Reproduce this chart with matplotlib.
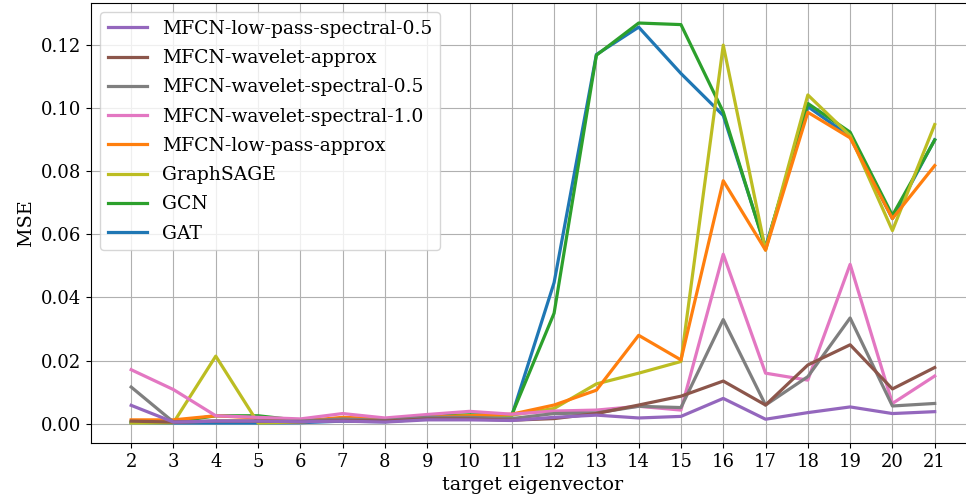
import numpy as np
import matplotlib
matplotlib.use('Agg')
import matplotlib.pyplot as plt

plt.rcParams['font.family'] = 'DejaVu Serif'
plt.rcParams['font.size'] = 13

# target eigenvectors
eigvecs = list(range(2, 22))

# MSE per model
gat = [0.0003, 0.0002, 0.0002, 0.0002, 0.0003, 0.0008, 0.0006, 0.0015, 0.0018, 0.0025,
       0.0447, 0.1170, 0.1257, 0.1110, 0.0977, 0.0560, 0.1005, 0.0910, 0.0650, 0.0900]
gcn = [0.0005, 0.0005, 0.0025, 0.0025, 0.0010, 0.0015, 0.0012, 0.0025, 0.0028, 0.0028,
       0.0350, 0.1168, 0.1270, 0.1265, 0.0988, 0.0555, 0.1015, 0.0924, 0.0660, 0.0899]
graphsage = [0.0002, 0.0003, 0.0214, 0.0002, 0.0005, 0.0015, 0.0010, 0.0020, 0.0025, 0.0027,
             0.0048, 0.0126, 0.0160, 0.0197, 0.1200, 0.0550, 0.1042, 0.0913, 0.0612, 0.0948]
lowpass_approx = [0.0012, 0.0012, 0.0025, 0.0018, 0.0008, 0.0020, 0.0015, 0.0020, 0.0025, 0.0030,
                  0.0059, 0.0106, 0.0280, 0.0202, 0.0770, 0.0550, 0.0987, 0.0906, 0.0650, 0.0818]
wavelet_spec_10 = [0.0171, 0.0108, 0.0025, 0.0020, 0.0015, 0.0032, 0.0018, 0.0029, 0.0039, 0.0030,
                   0.0040, 0.0043, 0.0055, 0.0043, 0.0537, 0.0160, 0.0138, 0.0505, 0.0064, 0.0151]
wavelet_spec_05 = [0.0116, 0.0005, 0.0008, 0.0008, 0.0008, 0.0015, 0.0010, 0.0020, 0.0020, 0.0016,
                   0.0032, 0.0034, 0.0055, 0.0051, 0.0330, 0.0059, 0.0149, 0.0335, 0.0056, 0.0064]
wavelet_approx = [0.0008, 0.0005, 0.0008, 0.0008, 0.0006, 0.0010, 0.0008, 0.0015, 0.0015, 0.0011,
                  0.0016, 0.0032, 0.0059, 0.0087, 0.0135, 0.0059, 0.0186, 0.0250, 0.0110, 0.0178]
lowpass_spec_05 = [0.0058, 0.0005, 0.0008, 0.0008, 0.0006, 0.0008, 0.0005, 0.0012, 0.0012, 0.0010,
                   0.0020, 0.0027, 0.0018, 0.0023, 0.0080, 0.0014, 0.0035, 0.0053, 0.0032, 0.0038]

# drawn in this order, listed in reverse in the legend
series = [
    ('GAT', gat, 'tab:blue'),
    ('GCN', gcn, 'tab:green'),
    ('GraphSAGE', graphsage, 'tab:olive'),
    ('MFCN-low-pass-approx', lowpass_approx, 'tab:orange'),
    ('MFCN-wavelet-spectral-1.0', wavelet_spec_10, 'tab:pink'),
    ('MFCN-wavelet-spectral-0.5', wavelet_spec_05, 'tab:gray'),
    ('MFCN-wavelet-approx', wavelet_approx, 'tab:brown'),
    ('MFCN-low-pass-spectral-0.5', lowpass_spec_05, 'tab:purple'),
]

fig = plt.figure(figsize=(9.66, 5.04), dpi=100)
ax = fig.add_axes([0.0942, 0.121, 0.915, 0.873])

for name, vals, col in series:
    ax.plot(eigvecs, vals, color=col, lw=2.3, label=name)

ax.set_xticks(eigvecs)
ax.set_xlim(1.05, 21.95)
ax.grid(True)
ax.set_xlabel('target eigenvector', fontsize=13.8)
ax.set_ylabel('MSE', fontsize=13.8)

handles, labels = ax.get_legend_handles_labels()
ax.legend(handles[::-1], labels[::-1], loc='upper left', fontsize=13.5,
          handlelength=2.1, labelspacing=0.6)

fig.savefig('out.png', dpi=100)
